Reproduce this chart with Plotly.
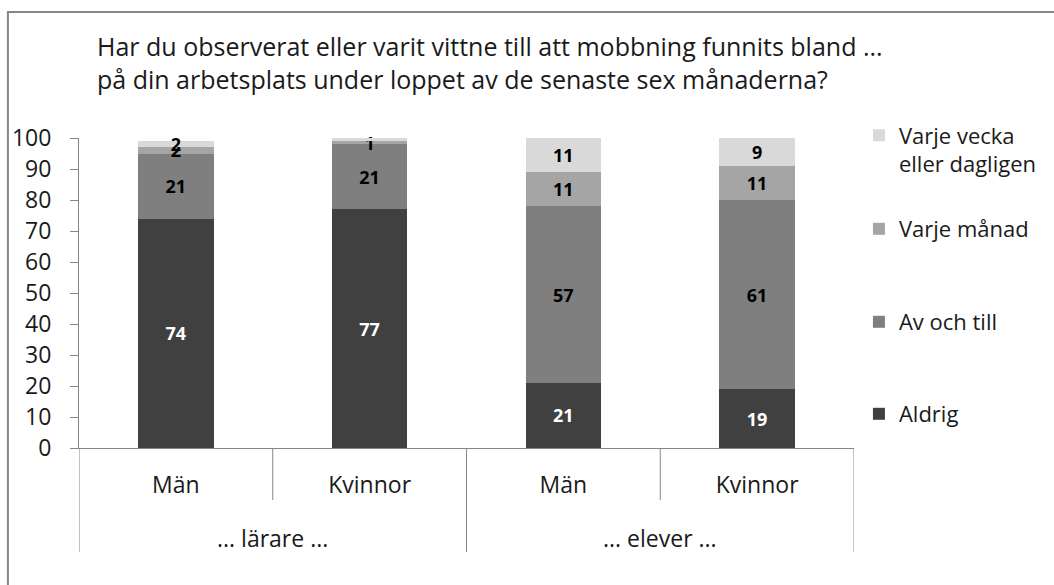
import plotly.graph_objects as go

# ---- data ----
groups = ["... lärare ...", "... lärare ...", "... elever ...", "... elever ..."]
subgroups = ["Män", "Kvinnor", "Män", "Kvinnor"]
series_names = ["Aldrig", "Av och till", "Varje månad", "Varje vecka<br>eller dagligen"]
aldrig = [74, 77, 21, 19]
av_och_till = [21, 21, 57, 61]
varje_manad = [2, 1, 11, 11]
varje_vecka = [2, 2, 11, 9]
yticks = [0, 10, 20, 30, 40, 50, 60, 70, 80, 90, 100]
title_text = ("Har du observerat eller varit vittne till att mobbning funnits bland ...<br>"
              "på din arbetsplats under loppet av de senaste sex månaderna?")

series_values = [aldrig, av_och_till, varje_manad, varje_vecka]
colors = ["#404040", "#7f7f7f", "#a5a5a5", "#d9d9d9"]
text_colors = ["white", "black", "black", "black"]
legend_ids = ["legend4", "legend3", "legend2", "legend"]

FONT = "Open Sans"
TXT = "#1a1a1a"
W, H = 1054, 585
ML, MR, MT, MB = 79, 190, 138, 137
PW, PH = W - ML - MR, H - MT - MB

def px_x(px):
    return (px - ML) / PW

def px_y(py):
    return (H - MB - py) / PH

xs = list(range(len(subgroups)))

fig = go.Figure()
for name, vals, col, tcol, lg in zip(series_names, series_values, colors, text_colors, legend_ids):
    fig.add_trace(go.Bar(
        x=xs, y=vals, name=name, marker=dict(color=col, line=dict(width=0)),
        width=0.39, text=vals, textposition="inside", insidetextanchor="middle",
        constraintext="none", textangle=0,
        textfont=dict(family=FONT, size=18, color=tcol, weight="bold"),
        legend=lg, cliponaxis=False,
    ))

# category divider lines and group labels
shapes = []
n = len(subgroups)
for i in range(n + 1):
    xb = i - 0.5
    outer = (i == 0 or i == n or groups[i - 1] != groups[i])
    shapes.append(dict(type="line", xref="x", yref="paper", x0=xb, x1=xb,
                       y0=0, y1=px_y(552) if outer else px_y(500),
                       line=dict(color="#868686", width=1)))
# outer border
shapes.append(dict(type="rect", xref="paper", yref="paper",
                   x0=px_x(7), x1=px_x(1070), y0=px_y(600), y1=px_y(12),
                   line=dict(color="#868686", width=2), fillcolor="rgba(0,0,0,0)"))

annotations = []
seen = []
for g in groups:
    if g not in seen:
        seen.append(g)
for g in seen:
    idx = [i for i, gg in enumerate(groups) if gg == g]
    annotations.append(dict(x=sum(idx) / len(idx), y=px_y(538), xref="x", yref="paper",
                            text=g, showarrow=False, yanchor="middle",
                            font=dict(family=FONT, size=23, color=TXT)))
annotations.append(dict(x=px_x(95), y=px_y(62), xref="paper", yref="paper",
                        text=title_text, showarrow=False, xanchor="left", yanchor="middle",
                        align="left", font=dict(family=FONT, size=25, color=TXT)))

def leg(ycenter, valign="middle"):
    return dict(x=px_x(869), y=px_y(ycenter), xanchor="left", yanchor="middle",
                bgcolor="rgba(0,0,0,0)", valign=valign,
                font=dict(family=FONT, size=22, color=TXT))

fig.update_layout(
    width=W, height=H, autosize=False,
    margin=dict(l=ML, r=MR, t=MT, b=MB, pad=0),
    paper_bgcolor="white", plot_bgcolor="white",
    barmode="stack", bargap=0.61,
    font=dict(family=FONT, color=TXT),
    xaxis=dict(range=[-0.5, n - 0.5], tickvals=xs, ticktext=subgroups,
               showline=True, linecolor="#868686", linewidth=1,
               ticks="", showgrid=False, zeroline=False,
               tickfont=dict(family=FONT, size=23, color=TXT),
               ticklabelstandoff=16),
    yaxis=dict(range=[0, 100], tickvals=yticks, showline=True, linecolor="#868686",
               linewidth=1, ticks="outside", ticklen=8, tickcolor="#868686",
               showgrid=False, zeroline=False,
               tickfont=dict(family=FONT, size=23, color=TXT),
               ticklabelstandoff=14),
    shapes=shapes, annotations=annotations,
    legend=leg(150, "top"), legend2=leg(229), legend3=leg(322), legend4=leg(414),
    showlegend=True,
)

fig.write_html("out.html", config={"displayModeBar": False},
               post_script="document.body.style.margin='0';")
